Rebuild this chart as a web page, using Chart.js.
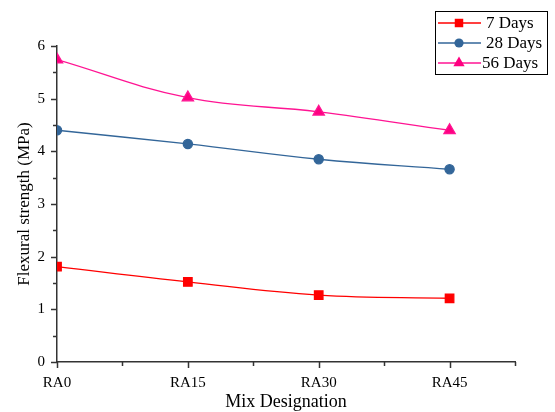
<!DOCTYPE html>
<html>
<head>
<meta charset="utf-8">
<script src="https://cdn.jsdelivr.net/npm/chart.js@4/dist/chart.umd.min.js"></script>
<style>
html,body{margin:0;padding:0;background:#fff;}
#wrap{width:555px;height:412px;position:relative;}
</style>
</head>
<body>
<div id="wrap"><canvas id="c" width="555" height="412"></canvas></div>
<script>
const categories = ['RA0', 'RA15', 'RA30', 'RA45'];
const days7 = [1.81, 1.52, 1.27, 1.21];
const days28 = [4.40, 4.14, 3.85, 3.66];
const days56 = [5.74, 5.02, 4.75, 4.40];
const seriesLabels = ['7 Days', '28 Days', '56 Days'];
const yTicks = [0, 1, 2, 3, 4, 5, 6];

const FONT = "'Liberation Serif', 'Times New Roman', serif";
const AXIS = '#333333';

function pts(arr){ return arr.map((v,i)=>({x:i, y:v})); }

const minorTicks = {
  id: 'minorTicks',
  afterDraw(chart){
    const ctx = chart.ctx, xs = chart.scales.x, ys = chart.scales.y;
    const ca = chart.chartArea;
    ctx.save();
    ctx.strokeStyle = AXIS;
    ctx.lineWidth = 1.5;
    for (let v = ys.min; v <= ys.max + 1e-9; v += 0.5){
      const y = Math.round(ys.getPixelForValue(v)) + 0.5;
      const len = Number.isInteger(v) ? 6 : 4;
      ctx.beginPath(); ctx.moveTo(ca.left - len, y); ctx.lineTo(ca.left, y); ctx.stroke();
    }
    for (let v = xs.min; v <= xs.max + 1e-9; v += 0.5){
      const x = Math.round(xs.getPixelForValue(v)) + 0.5;
      const len = Number.isInteger(v) ? 6 : 4;
      ctx.beginPath(); ctx.moveTo(x, ca.bottom); ctx.lineTo(x, ca.bottom + len); ctx.stroke();
    }
    ctx.restore();
  }
};

const boxLegend = {
  id: 'boxLegend',
  afterDraw(chart){
    const ctx = chart.ctx;
    const bx = 435.5, by = 11.5, bw = 112, bh = 63;
    ctx.save();
    ctx.fillStyle = '#fff';
    ctx.fillRect(bx, by, bw, bh);
    ctx.strokeStyle = '#000';
    ctx.lineWidth = 1;
    ctx.strokeRect(bx, by, bw, bh);
    chart.data.datasets.forEach((ds, i) => {
      const y = 23 + i * 20;
      ctx.strokeStyle = ds.borderColor;
      ctx.lineWidth = 1.3;
      ctx.beginPath(); ctx.moveTo(438, y); ctx.lineTo(481, y); ctx.stroke();
      ctx.fillStyle = ds.backgroundColor;
      ctx.strokeStyle = ds.backgroundColor;
      Chart.helpers.drawPoint(ctx, {
        pointStyle: ds.pointStyle, radius: ds.pointRadius, rotation: 0, borderWidth: 0
      }, 459, y);
      ctx.fillStyle = '#000';
      ctx.font = '17px ' + FONT;
      ctx.textBaseline = 'middle';
      ctx.textAlign = 'left';
      ctx.fillText(ds.label, i === 2 ? 482 : 486, y + 1);
    });
    ctx.restore();
  }
};

new Chart(document.getElementById('c'), {
  type: 'line',
  data: {
    datasets: [
      { label: seriesLabels[0], data: pts(days7), borderColor: '#FF0000', backgroundColor: '#FF0000',
        pointStyle: 'rect', pointRadius: 6, borderWidth: 1.3, tension: 0.4, clip: 0 },
      { label: seriesLabels[1], data: pts(days28), borderColor: '#336699', backgroundColor: '#336699',
        pointStyle: 'circle', pointRadius: 4.6, borderWidth: 1.3, tension: 0.4, clip: 0 },
      { label: seriesLabels[2], data: pts(days56), borderColor: '#FF1493', backgroundColor: '#FF0080',
        pointStyle: 'triangle', pointRadius: 6.5, borderWidth: 1.3, tension: 0.4, clip: 0 }
    ]
  },
  options: {
    responsive: false,
    animation: false,
    devicePixelRatio: 1,
    layout: { padding: { left: 0, right: 40, top: 46, bottom: 0 } },
    plugins: { legend: { display: false }, tooltip: { enabled: false } },
    elements: { point: { borderWidth: 0 } },
    scales: {
      x: {
        type: 'linear', min: 0, max: 3.5,
        afterFit(s){ s.height = 50; },
        afterBuildTicks(s){ s.ticks = categories.map((c,i)=>({value:i})); },
        ticks: { callback: (v) => categories[v] ?? '', color: '#000', padding: 12,
                 font: { family: FONT, size: 15 }, maxRotation: 0, autoSkip: false },
        grid: { drawOnChartArea: false, drawTicks: false },
        border: { display: true, color: AXIS, width: 1.5 },
        title: { display: true, text: 'Mix Designation', color: '#000',
                 font: { family: FONT, size: 18 }, padding: { top: 0, bottom: -1 } }
      },
      y: {
        type: 'linear', min: 0, max: 6,
        afterFit(s){ s.width = 57; },
        afterBuildTicks(s){ s.ticks = yTicks.map(v=>({value:v})); },
        ticks: { color: '#000', padding: 12, font: { family: FONT, size: 15 } },
        grid: { drawOnChartArea: false, drawTicks: false },
        border: { display: true, color: AXIS, width: 1.5 },
        title: { display: true, text: 'Flexural strength (MPa)', color: '#000',
                 font: { family: FONT, size: 17 }, padding: { top: 14, bottom: 0 } }
      }
    }
  },
  plugins: [minorTicks, boxLegend]
});
</script>
</body>
</html>
